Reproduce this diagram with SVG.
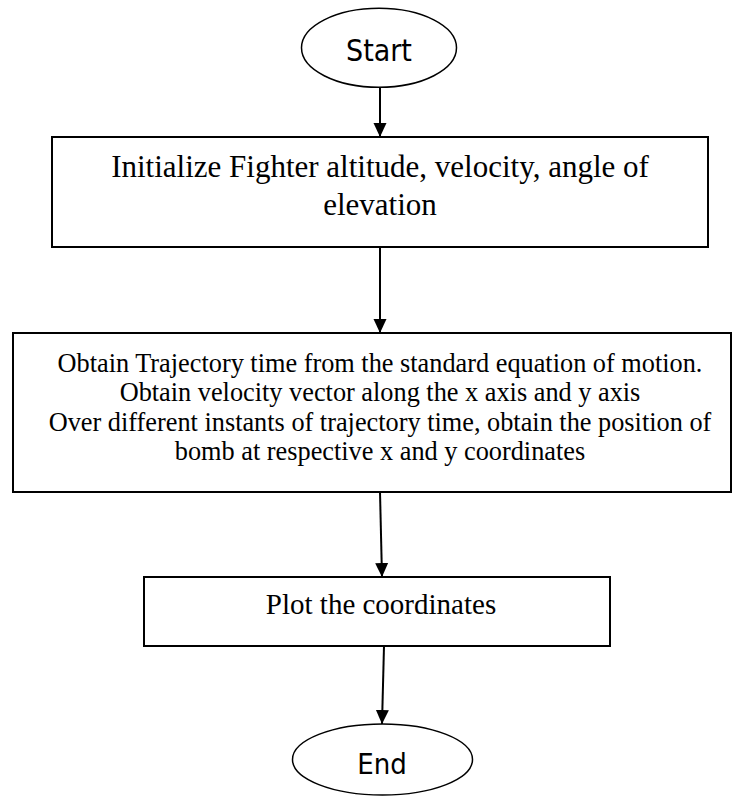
<svg xmlns="http://www.w3.org/2000/svg" width="733" height="797" viewBox="0 0 733 797">
<style>
.box{fill:#fff;stroke:#000;stroke-width:2}
.term{fill:#fff;stroke:#000;stroke-width:1.5}
.serif{font-family:"Liberation Serif","Times New Roman",serif;fill:#000;text-anchor:middle}
.sans{font-family:"DejaVu Sans Condensed","DejaVu Sans",sans-serif;fill:#000;text-anchor:middle}
.conn{stroke:#000;stroke-width:2;fill:none;marker-end:url(#ah)}
</style>
<defs>
<marker id="ah" markerWidth="14" markerHeight="14" refX="14" refY="7" orient="auto" markerUnits="userSpaceOnUse">
<path d="M0,0.5 L14,7 L0,13.5 Z" fill="#000"/>
</marker>
</defs>
<rect width="733" height="797" fill="#fff"/>
<g id="connectors">
<line class="conn" x1="380" y1="87" x2="380" y2="137"/>
<line class="conn" x1="380" y1="247" x2="380" y2="333"/>
<line class="conn" x1="380" y1="492" x2="382" y2="577"/>
<line class="conn" x1="384" y1="646" x2="382" y2="724"/>
</g>
<g id="start">
<ellipse class="term" cx="379" cy="47.8" rx="77.5" ry="39.5"/>
<text class="sans" x="379" y="61" font-size="30">Start</text>
</g>
<g id="init">
<rect class="box" x="52" y="137" width="656" height="110"/>
<text class="serif" x="380" y="177" font-size="31">Initialize Fighter altitude, velocity, angle of</text>
<text class="serif" x="380" y="215" font-size="31">elevation</text>
</g>
<g id="compute">
<rect class="box" x="13" y="333" width="718" height="159"/>
<text class="serif" x="380" y="372" font-size="26.3">Obtain Trajectory time from the standard equation of motion.</text>
<text class="serif" x="380" y="401" font-size="26.3">Obtain velocity vector along the x axis and y axis</text>
<text class="serif" x="380" y="431" font-size="26.3">Over different instants of trajectory time, obtain the position of</text>
<text class="serif" x="380" y="460" font-size="26.3">bomb at respective x and y coordinates</text>
</g>
<g id="plot">
<rect class="box" x="144" y="577" width="466" height="69"/>
<text class="serif" x="381" y="614" font-size="29">Plot the coordinates</text>
</g>
<g id="end">
<ellipse class="term" cx="382.5" cy="759.5" rx="90" ry="35.5"/>
<text class="sans" x="382" y="774" font-size="29">End</text>
</g>
</svg>
